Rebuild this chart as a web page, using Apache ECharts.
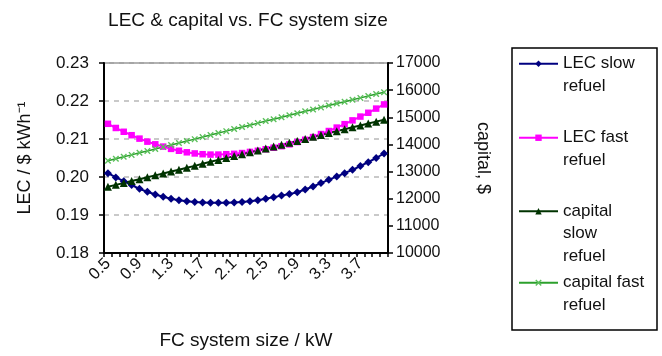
<!DOCTYPE html>
<html>
<head>
<meta charset="utf-8">
<script src="https://cdn.jsdelivr.net/npm/echarts@6/dist/echarts.min.js"></script>
<style>html,body{margin:0;padding:0;background:#fff;}#c{width:662px;height:356px;}</style>
</head>
<body>
<div id="c"></div>
<script>
const sizes = ['0.5','0.6','0.7','0.8','0.9','1.0','1.1','1.2','1.3','1.4','1.5','1.6','1.7','1.8','1.9','2.0','2.1','2.2','2.3','2.4','2.5','2.6','2.7','2.8','2.9','3.0','3.1','3.2','3.3','3.4','3.5','3.6','3.7','3.8','3.9','4.0'];
const lecSlow = [0.2010,0.1999,0.1989,0.1979,0.1969,0.1961,0.1954,0.1948,0.1943,0.1939,0.1936,0.1934,0.1933,0.1932,0.1932,0.1932,0.1933,0.1934,0.1936,0.1939,0.1943,0.1947,0.1951,0.1955,0.1960,0.1967,0.1975,0.1984,0.1993,0.2001,0.2010,0.2019,0.2029,0.2039,0.2050,0.2062];
const lecFast = [0.2140,0.2129,0.2119,0.2110,0.2101,0.2093,0.2086,0.2080,0.2074,0.2069,0.2065,0.2062,0.2060,0.2059,0.2059,0.2060,0.2061,0.2063,0.2066,0.2069,0.2073,0.2077,0.2081,0.2086,0.2092,0.2098,0.2105,0.2113,0.2121,0.2130,0.2139,0.2149,0.2159,0.2169,0.2180,0.2191];
const capSlow = [12440,12510,12580,12650,12720,12790,12860,12930,13000,13070,13140,13210,13290,13360,13430,13500,13570,13640,13710,13780,13850,13920,13990,14060,14130,14200,14280,14350,14420,14490,14560,14630,14700,14770,14840,14910];
const capFast = [13400,13470,13545,13615,13690,13760,13835,13905,13980,14050,14125,14195,14270,14345,14420,14490,14565,14640,14710,14785,14860,14930,15005,15075,15150,15220,15290,15365,15435,15505,15575,15645,15715,15785,15855,15920];
const lecTicks = [0.18,0.19,0.20,0.21,0.22,0.23];
const capTicks = [10000,11000,12000,13000,14000,15000,16000,17000];
const names = ['LEC slow refuel','LEC fast refuel','capital slow refuel','capital fast refuel'];
const legendText = {
  'LEC slow refuel': ' \nLEC slow\nrefuel',
  'LEC fast refuel': ' \nLEC fast\nrefuel',
  'capital slow refuel': ' \n \ncapital\nslow\nrefuel',
  'capital fast refuel': ' \ncapital fast\nrefuel'
};
const legendTops = [30, 104, 155, 249];

const font = 'Liberation Sans, Arial, sans-serif';
const chart = echarts.init(document.getElementById('c'));
const xShape = 'path://M0,1.5L1.5,0L5,3.5L8.5,0L10,1.5L6.5,5L10,8.5L8.5,10L5,6.5L1.5,10L0,8.5L3.5,5Z';

const legends = names.map((n, i) => ({
  orient: 'vertical', left: 518, top: legendTops[i], padding: 0,
  itemWidth: 39, itemHeight: 8, itemGap: 0,
  data: [n],
  formatter: name => legendText[name],
  textStyle: { fontFamily: font, fontSize: 17, lineHeight: 22.5, color: '#111' }
}));

chart.setOption({
  animation: false,
  title: {
    text: 'LEC & capital vs. FC system size', left: 243, top: 6, textAlign: 'center',
    textStyle: { fontFamily: font, fontSize: 19, fontWeight: 'normal', color: '#111' }
  },
  legend: legends,
  graphic: [{ type: 'rect', shape: { x: 512, y: 48, width: 145, height: 282 },
    style: { fill: 'none', stroke: '#000', lineWidth: 1.5 }, silent: true }],
  grid: { left: 104, right: 274, top: 63, height: 190, show: true, borderColor: '#888', borderWidth: 1.5 },
  xAxis: {
    type: 'category', data: sizes, boundaryGap: true,
    name: 'FC system size / kW', nameLocation: 'middle', nameGap: 78,
    nameTextStyle: { fontFamily: font, fontSize: 19, color: '#111' },
    axisLine: { lineStyle: { color: '#000', width: 2 } },
    axisTick: { show: true, interval: 0, length: 4, lineStyle: { color: '#000', width: 1.5 } },
    axisLabel: { interval: 3, rotate: 45, margin: 8, fontFamily: font, fontSize: 16.5, color: '#111' },
    splitLine: { show: false }
  },
  yAxis: [{
    type: 'value', min: lecTicks[0], max: lecTicks[lecTicks.length - 1], interval: 0.01,
    name: 'LEC / $ kWh⁻¹', nameLocation: 'middle', nameGap: 70, nameRotate: 90,
    nameTextStyle: { fontFamily: font, fontSize: 18, color: '#111' },
    axisLine: { show: true, lineStyle: { color: '#000', width: 2 } },
    axisTick: { show: true, length: 5, lineStyle: { color: '#000', width: 1.5 } },
    axisLabel: { formatter: v => v.toFixed(2), margin: 15, fontFamily: font, fontSize: 17, color: '#111' },
    splitLine: { show: true, lineStyle: { color: '#b8b8b8', width: 1.5, type: [5, 5] } }
  }, {
    type: 'value', min: capTicks[0], max: capTicks[capTicks.length - 1], interval: 1000,
    name: 'capital, $', nameLocation: 'middle', nameGap: 86, nameRotate: -90,
    nameTextStyle: { fontFamily: font, fontSize: 18, color: '#111' },
    axisLine: { show: true, lineStyle: { color: '#000', width: 2 } },
    axisTick: { show: true, length: 5, lineStyle: { color: '#000', width: 1.5 } },
    axisLabel: { formatter: v => String(v), margin: 8, fontFamily: font, fontSize: 16, color: '#111' },
    splitLine: { show: false }
  }],
  series: [
    { name: names[0], type: 'line', yAxisIndex: 0, data: lecSlow, symbol: 'diamond', symbolSize: 8, showAllSymbol: true,
      lineStyle: { color: '#000080', width: 2 }, itemStyle: { color: '#000080' } },
    { name: names[1], type: 'line', yAxisIndex: 0, data: lecFast, symbol: 'rect', symbolSize: 6.5, showAllSymbol: true,
      lineStyle: { color: '#ff00ff', width: 2 }, itemStyle: { color: '#ff00ff' } },
    { name: names[2], type: 'line', yAxisIndex: 1, data: capSlow, symbol: 'triangle', symbolSize: 8, showAllSymbol: true,
      lineStyle: { color: '#003300', width: 2 }, itemStyle: { color: '#003300' } },
    { name: names[3], type: 'line', yAxisIndex: 1, data: capFast, symbol: xShape, symbolSize: 6.5, showAllSymbol: true,
      lineStyle: { color: '#2ca02c', width: 1.5 }, itemStyle: { color: '#5cc05c' } }
  ]
});
</script>
</body>
</html>
